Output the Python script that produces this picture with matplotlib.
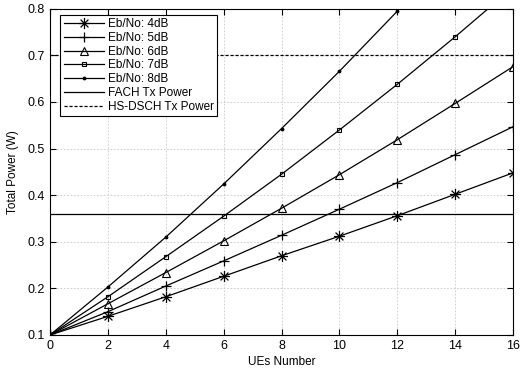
import matplotlib
matplotlib.use('Agg')
import matplotlib.pyplot as plt
from matplotlib.path import Path

plt.rcParams['font.family'] = ['Liberation Sans', 'DejaVu Sans']

ues = [0, 2, 4, 6, 8, 10, 12, 14, 16]
p4 = [0.100, 0.140, 0.182, 0.226, 0.270, 0.312, 0.356, 0.402, 0.448]
p5 = [0.100, 0.150, 0.205, 0.259, 0.314, 0.370, 0.427, 0.487, 0.547]
p6 = [0.100, 0.167, 0.234, 0.302, 0.372, 0.444, 0.519, 0.597, 0.676]
p7 = [0.100, 0.182, 0.268, 0.355, 0.445, 0.540, 0.638, 0.740, 0.846]
p8 = [0.100, 0.203, 0.310, 0.424, 0.543, 0.666, 0.795, 0.930, 1.070]
fach_power = 0.36
hsdsch_power = 0.70

# matlab-style asterisk: plus and cross together
d = 0.7071
asterisk = Path([(-1, 0), (1, 0), (0, -1), (0, 1), (-d, -d), (d, d), (-d, d), (d, -d)],
                [Path.MOVETO, Path.LINETO] * 4)

fig = plt.figure(figsize=(5.21, 3.72), dpi=100)
ax = fig.add_axes([0.096, 0.0995, 0.889, 0.877])

ax.plot(ues, p4, color='k', lw=0.9, marker=asterisk, ms=8, mfc='none', mew=0.9, label='Eb/No: 4dB')
ax.plot(ues, p5, color='k', lw=0.9, marker='+', ms=7, mew=0.9, label='Eb/No: 5dB')
ax.plot(ues, p6, color='k', lw=0.9, marker='^', ms=5.5, mfc='none', mew=0.8, label='Eb/No: 6dB')
ax.plot(ues, p7, color='k', lw=0.9, marker='s', ms=3.5, mfc='none', mew=0.8, label='Eb/No: 7dB')
ax.plot(ues, p8, color='k', lw=0.9, marker='.', ms=3.5, label='Eb/No: 8dB')
ax.axhline(fach_power, color='k', lw=0.9, label='FACH Tx Power')
ax.axhline(hsdsch_power, color='k', lw=0.9, ls=(0, (2.5, 1.5)), label='HS-DSCH Tx Power')

ax.set_xlim(0, 16)
ax.set_ylim(0.1, 0.8)
ax.set_xticks(range(0, 17, 2))
ax.set_xlabel('UEs Number', fontsize=8.5, labelpad=3)
ax.set_ylabel('Total Power (W)', fontsize=8.5, labelpad=6)
ax.tick_params(labelsize=9, direction='in', length=4, top=True, right=True)
ax.grid(True, ls=(0, (2, 2)), color='#c8c8c8', lw=0.6)
for s in ax.spines.values():
    s.set_linewidth(0.8)

leg = ax.legend(loc='upper left', bbox_to_anchor=(0.0216, 0.982), fontsize=8.5,
                frameon=True, fancybox=False, edgecolor='k', framealpha=1,
                borderaxespad=0, handlelength=3.4, labelspacing=0.15,
                borderpad=0.3, handletextpad=0.35)
leg.get_frame().set_linewidth(0.8)

fig.savefig('out.png', dpi=100)
